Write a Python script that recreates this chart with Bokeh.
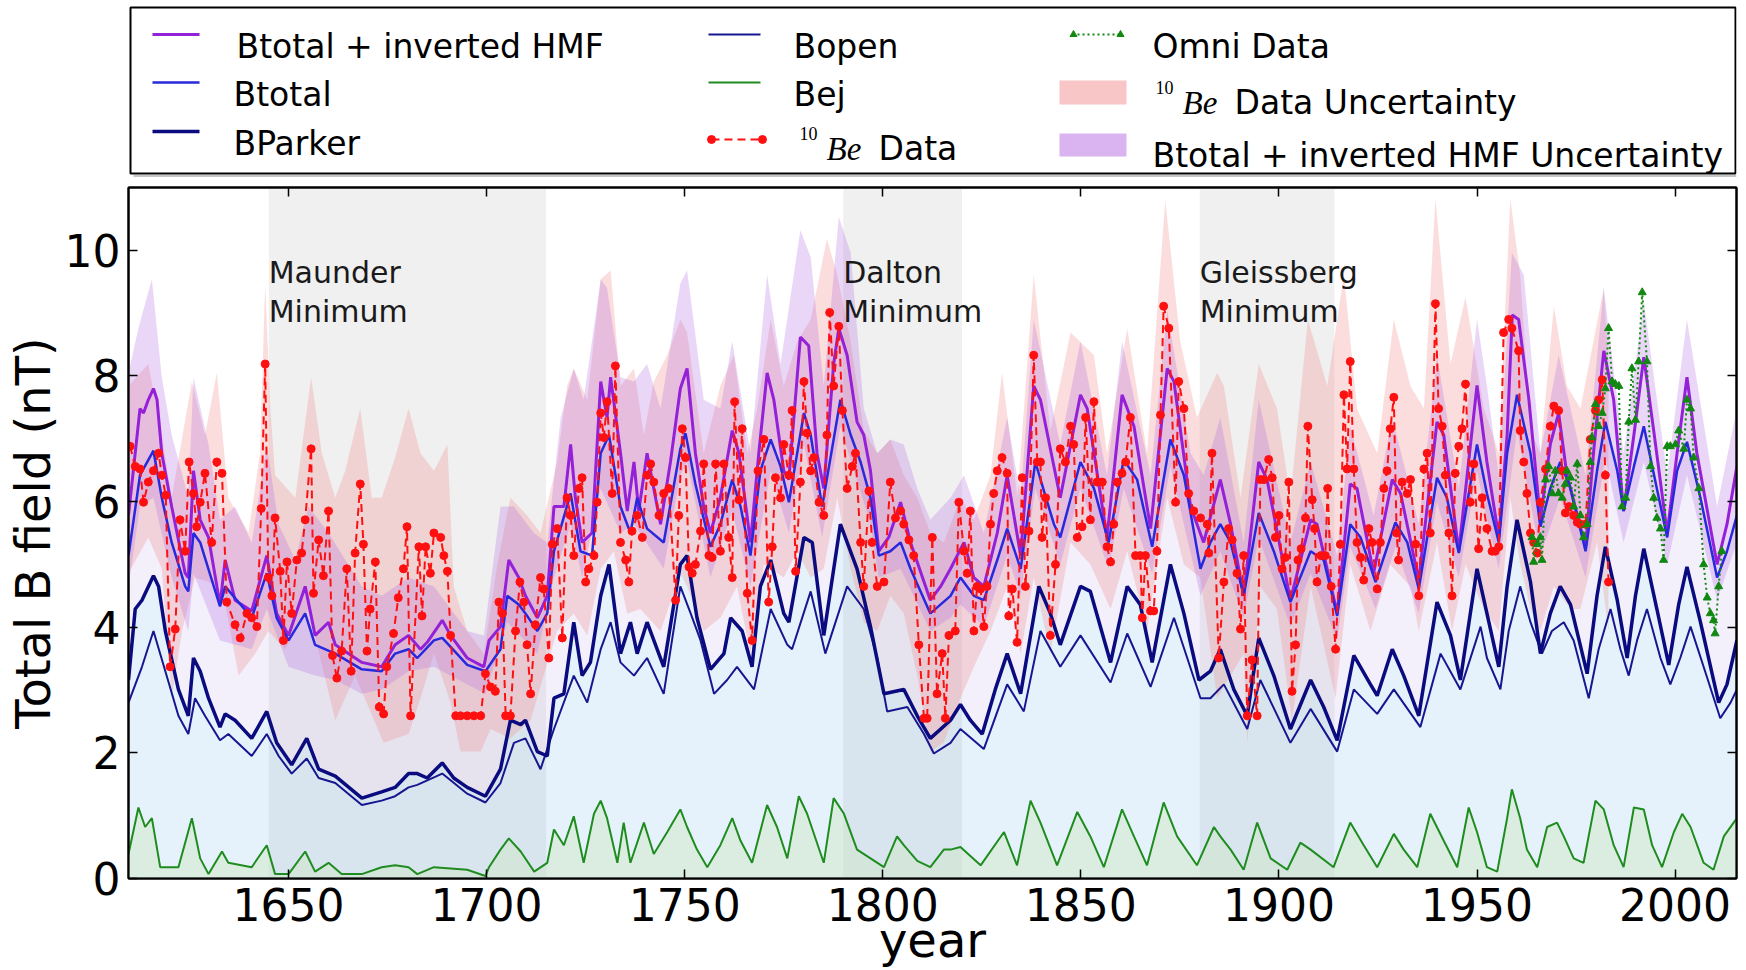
from bokeh.plotting import figure
from bokeh.models import Range1d, LinearAxis, BoxAnnotation, FixedTicker
from bokeh.layouts import column
from bokeh.embed import file_html
from bokeh.resources import INLINE
from bokeh.core.properties import value

SANS = "DejaVu Sans"
SERIF = "Liberation Serif"

# ---------------- data ----------------
x_ticks = [1650, 1700, 1750, 1800, 1850, 1900, 1950, 2000]
y_ticks = [0, 2, 4, 6, 8, 10]

minima_line1 = ["Maunder", "Dalton", "Gleissberg"]
minima_line2 = ["Minimum", "Minimum", "Minimum"]
minima_start = [1645, 1790, 1880]
minima_end = [1715, 1820, 1914]

hmf_year = [1609.6,1612.5,1613.4,1614.6,1615.9,1616.8,1618.0,1620.5,1623.9,1624.7,1626.0,1627.7,1629.8,1632.7,1634.0,1636.5,1640.7,1644.5,1647.0,1650.0,
            1654.2,1656.7,1660.1,1661.8,1668.5,1673.5,1676.9,1680.3,1683.3,1685.0,1688.8,1690.9,1695.1,1699.3,1700.6,1703.5,1705.6,1708.1,1709.8,1712.8,
            1715.3,1717.0,1719.5,1721.2,1722.4,1724.1,1726.6,1728.8,1730.4,1731.3,1733.8,1735.5,1737.2,1738.4,1740.5,1743.9,1746.4,1748.9,1750.6,1752.7,
            1754.8,1756.5,1759.0,1762.0,1763.7,1766.6,1768.7,1770.8,1772.5,1775.0,1776.3,1779.2,1781.3,1783.4,1785.1,1787.6,1788.9,1791.0,1793.5,1795.2,
            1796.9,1799.0,1801.5,1804.5,1807.0,1812.0,1814.6,1817.1,1820.5,1823.0,1825.5,1828.9,1831.4,1834.8,1838.1,1839.8,1844.8,1849.9,1851.6,1856.6,
            1860.4,1863.4,1867.6,1871.8,1873.5,1877.7,1881.0,1885.2,1887.8,1891.1,1894.9,1897.0,1902.9,1908.0,1909.6,1914.7,1918.0,1919.7,1923.9,1928.6,
            1930.7,1935.3,1939.9,1941.6,1945.4,1950.0,1952.5,1955.5,1957.6,1958.9,1960.5,1963.1,1966.0,1968.5,1970.6,1972.7,1977.4,1979.5,1982.0,1984.5,
            1987.0,1989.6,1992.1,1994.6,1998.0,2000.5,2003.0,2005.5,2010.6,2013.1,2015.6]
hmf = [5.78,7.48,7.41,7.62,7.80,7.62,6.77,5.92,4.86,4.79,6.49,5.71,5.43,4.36,5.07,4.43,4.26,5.14,4.22,3.87,
       4.65,3.87,4.08,3.72,3.44,3.37,3.72,3.87,3.65,3.76,4.11,3.87,3.51,3.37,3.79,4.01,5.07,4.79,4.50,4.15,
       4.50,5.92,5.92,6.91,6.06,5.35,5.50,7.91,7.34,7.98,6.77,5.85,6.63,5.85,6.77,5.64,6.63,7.80,8.12,6.77,
       5.92,5.50,6.06,7.13,6.77,5.35,6.77,8.05,7.62,6.49,6.35,8.62,8.48,6.77,6.21,8.19,8.76,8.33,7.27,7.06,
       6.49,5.21,5.43,5.99,5.35,4.43,4.65,4.93,5.35,4.79,4.65,5.50,6.42,5.14,7.84,7.62,6.06,7.70,7.48,5.43,
       7.70,7.20,5.57,8.12,7.91,5.92,5.35,6.35,5.64,4.50,6.63,6.35,4.43,5.71,5.64,4.22,6.28,6.21,4.86,6.35,
       6.13,4.75,7.27,7.06,5.21,7.85,6.63,5.43,7.06,8.97,8.90,7.62,5.71,6.91,7.41,6.42,5.28,6.84,8.40,7.62,
       5.85,7.06,8.30,7.13,5.50,6.77,7.98,6.77,5.00,5.64,6.56]

btot_year = [1609.6,1612.5,1615.9,1618.0,1620.5,1623.9,1624.7,1626.0,1627.7,1632.7,1634.0,1640.7,1644.5,1647.0,1650.0,1654.2,1656.7,1661.8,1668.5,1673.5,
             1676.9,1680.3,1682.5,1686.7,1688.8,1695.1,1699.7,1703.5,1705.2,1708.1,1709.8,1712.8,1715.3,1717.0,1721.2,1723.7,1726.6,1728.8,1730.9,1733.8,
             1736.3,1738.0,1740.5,1744.7,1748.9,1750.2,1752.7,1756.5,1759.0,1762.0,1764.1,1766.6,1769.1,1771.7,1774.2,1776.3,1780.1,1781.8,1784.7,1789.3,
             1791.9,1794.4,1796.9,1799.0,1801.9,1804.5,1807.0,1812.0,1817.1,1819.6,1823.0,1825.5,1828.9,1831.4,1834.8,1838.5,1843.2,1844.8,1849.9,1853.3,
             1857.0,1860.8,1864.2,1868.0,1872.6,1876.0,1880.2,1882.7,1885.2,1887.8,1891.1,1894.9,1898.7,1902.9,1908.0,1911.3,1914.7,1918.0,1920.6,1924.4,
             1929.4,1932.4,1935.3,1939.9,1942.4,1945.4,1950.0,1952.5,1955.5,1957.6,1960.1,1963.5,1966.0,1968.5,1971.0,1973.6,1977.4,1980.3,1982.4,1985.4,
             1987.0,1989.6,1992.1,1995.4,1998.0,2000.5,2003.0,2006.4,2010.6,2013.1,2015.6]
btot = [5.14,6.42,6.81,6.06,5.35,4.65,4.57,5.50,5.35,4.33,4.65,4.15,4.86,4.15,3.79,4.22,3.72,3.58,3.33,3.30,
        3.58,3.65,3.51,3.79,3.83,3.40,3.30,3.65,4.50,4.36,4.22,3.94,4.22,5.21,6.13,5.21,5.14,6.77,7.06,5.92,
        5.50,6.06,5.57,5.35,6.84,7.09,6.28,5.28,5.64,6.35,5.92,5.14,6.49,6.99,6.56,5.99,7.41,7.06,5.92,7.62,
        7.06,6.63,6.06,5.14,5.21,5.35,4.93,4.22,4.50,4.79,4.50,4.43,5.07,5.57,4.93,6.63,5.64,5.43,6.63,6.21,
        5.35,6.67,6.35,5.28,6.99,6.42,4.93,5.35,5.64,5.35,4.50,5.82,5.21,4.40,5.21,5.07,4.18,5.64,5.43,4.72,
        5.67,5.35,4.61,6.38,6.06,5.18,6.91,6.13,5.35,6.77,7.70,6.77,5.60,6.21,6.63,6.21,5.21,6.49,7.27,6.49,
        5.85,6.56,7.20,6.21,5.43,6.49,6.95,6.06,4.79,5.21,5.78]

bparker_year = [1609.6,1611.3,1613.0,1615.9,1617.2,1618.9,1622.2,1624.7,1626.0,1627.7,1629.8,1632.7,1634.0,1636.5,1640.7,1644.5,1647.0,1650.8,1654.6,1657.6,
                1661.8,1668.5,1673.5,1676.9,1680.3,1682.5,1685.0,1688.8,1691.7,1695.1,1699.7,1703.5,1706.0,1708.6,1709.8,1712.8,1715.3,1717.0,1719.5,1722.0,
                1724.1,1726.2,1728.8,1730.9,1733.8,1736.3,1738.0,1740.5,1744.7,1748.9,1750.6,1753.1,1756.5,1759.9,1761.6,1764.5,1767.0,1769.1,1771.7,1775.0,
                1776.3,1780.1,1782.2,1785.1,1789.3,1793.5,1796.9,1800.3,1805.3,1808.7,1812.0,1817.1,1819.6,1822.1,1825.1,1828.4,1831.4,1834.8,1839.4,1842.3,
                1844.8,1849.9,1852.4,1857.5,1861.7,1865.0,1868.0,1872.6,1876.0,1879.8,1882.7,1885.2,1888.6,1892.0,1894.9,1898.7,1902.9,1908.0,1911.3,1914.7,
                1918.9,1923.1,1924.8,1928.6,1931.5,1935.3,1939.9,1943.3,1945.8,1950.0,1952.5,1955.5,1957.6,1960.1,1963.5,1966.0,1968.5,1971.0,1973.6,1977.8,
                1980.3,1982.4,1985.4,1987.9,1990.0,1992.1,1995.4,1998.4,2000.9,2003.0,2006.4,2011.0,2013.1,2015.6]
bparker = [3.16,4.29,4.43,4.82,4.65,3.94,3.01,2.59,3.51,3.30,2.87,2.41,2.62,2.52,2.23,2.66,2.16,1.81,2.23,1.74,
           1.63,1.28,1.38,1.45,1.67,1.67,1.60,1.84,1.60,1.45,1.31,1.74,2.52,2.45,2.52,2.02,1.95,2.87,2.94,4.08,
           3.23,3.44,4.50,5.00,3.58,4.08,3.58,4.08,3.37,5.00,5.14,4.15,3.33,3.58,4.15,3.94,3.37,4.65,5.07,4.22,
           4.08,5.43,5.35,3.87,5.64,4.93,4.01,2.94,3.01,2.59,2.23,2.52,2.77,2.52,2.30,3.01,3.58,2.94,4.65,4.22,
           3.72,4.65,4.57,3.44,4.65,4.36,3.44,5.00,4.22,3.16,3.30,3.65,3.01,2.59,3.83,3.23,2.38,3.16,2.73,2.20,
           3.55,3.09,2.91,3.65,3.23,2.59,4.40,3.87,3.16,4.93,4.22,3.37,4.65,5.71,4.72,3.58,4.22,4.65,4.36,3.26,
           4.50,5.28,4.43,3.51,4.50,5.25,4.29,3.40,4.36,4.96,4.08,2.80,3.09,3.79]

bopen_year = [1609.6,1613.0,1615.9,1618.9,1622.2,1624.7,1626.4,1628.9,1632.7,1634.8,1640.7,1644.5,1647.5,1650.8,1654.6,1657.6,1661.8,1668.5,1673.5,1676.9,
              1680.3,1682.5,1688.8,1695.1,1699.7,1703.5,1706.9,1709.8,1713.6,1717.0,1722.0,1725.4,1728.8,1731.3,1733.8,1737.2,1740.5,1744.7,1748.9,1751.5,
              1754.0,1757.4,1760.7,1763.2,1767.5,1771.7,1775.9,1777.1,1781.8,1785.5,1791.0,1795.2,1798.6,1801.1,1806.2,1810.4,1812.9,1817.1,1819.6,1825.5,
              1831.4,1835.6,1839.8,1844.8,1849.9,1857.5,1861.7,1867.6,1873.5,1880.2,1882.7,1886.1,1892.0,1895.3,1902.9,1908.0,1914.7,1918.9,1924.8,1929.0,
              1935.7,1940.8,1945.8,1950.9,1952.5,1955.9,1958.0,1960.9,1963.5,1966.4,1968.9,1971.9,1974.4,1978.2,1980.7,1983.7,1986.2,1988.3,1990.4,1992.9,
              1996.3,1998.8,2001.3,2003.9,2007.2,2011.4,2014.0,2015.6]
bopen = [2.80,3.37,3.94,3.30,2.59,2.30,2.87,2.59,2.20,2.30,1.95,2.30,1.95,1.67,1.91,1.60,1.52,1.17,1.24,1.31,
         1.45,1.49,1.67,1.35,1.21,1.52,2.16,2.23,1.74,2.38,3.23,2.80,3.65,4.08,3.44,3.23,3.51,2.94,4.65,4.22,
         3.79,2.94,3.16,3.37,3.01,4.29,3.72,3.65,4.57,3.58,4.65,4.29,3.51,2.66,2.73,2.30,1.99,2.16,2.38,2.06,
         3.09,2.66,3.94,3.37,3.87,3.12,3.90,3.05,4.15,2.87,2.87,3.09,2.38,3.16,2.16,2.70,2.02,3.01,2.62,3.01,
         2.41,3.58,3.01,4.01,3.51,3.01,3.94,4.65,4.08,3.58,3.94,4.08,3.79,2.87,3.65,4.29,3.65,3.23,3.79,4.29,
         3.51,3.09,3.51,4.01,3.37,2.55,2.80,3.01]

bej_year = [1609.6,1612.1,1613.8,1615.5,1617.6,1622.2,1625.6,1627.7,1629.8,1633.2,1634.8,1640.7,1644.5,1646.6,1650.0,1654.2,1656.7,1660.1,1663.4,1668.5,
            1673.5,1676.9,1680.3,1682.5,1686.7,1695.1,1699.7,1700.6,1703.5,1705.6,1708.6,1712.0,1715.3,1717.0,1719.5,1722.0,1724.5,1727.1,1728.8,1730.4,
            1733.0,1734.6,1736.3,1739.7,1742.2,1745.6,1748.9,1750.6,1753.1,1755.7,1759.0,1762.0,1764.1,1767.0,1770.8,1773.3,1775.9,1778.8,1780.9,1785.1,
            1787.6,1790.2,1793.5,1796.9,1800.3,1803.6,1805.3,1808.7,1812.0,1815.4,1817.1,1819.6,1824.7,1830.6,1833.9,1837.3,1839.8,1844.0,1849.1,1852.4,
            1855.8,1860.4,1863.4,1866.7,1870.9,1874.3,1879.3,1883.6,1885.2,1887.8,1891.1,1894.5,1897.9,1902.1,1905.4,1908.0,1913.8,1918.0,1921.4,1924.8,
            1929.0,1931.5,1934.9,1938.2,1941.6,1945.0,1947.9,1950.0,1952.5,1955.1,1957.6,1958.8,1960.9,1962.6,1965.2,1967.7,1970.2,1971.9,1974.4,1976.9,
            1979.9,1982.0,1984.5,1987.0,1989.6,1992.1,1994.2,1996.7,1999.7,2001.8,2003.9,2007.2,2009.7,2012.3,2015.6]
bej = [0.39,1.13,0.82,0.96,0.18,0.18,0.96,0.32,0.07,0.43,0.25,0.18,0.53,0.07,0.07,0.43,0.11,0.25,0.07,0.07,
       0.18,0.21,0.18,0.07,0.18,0.14,0.04,0.18,0.46,0.64,0.43,0.11,0.25,0.78,0.53,0.99,0.25,1.03,1.24,0.96,
       0.25,0.89,0.25,0.89,0.39,0.74,1.10,0.82,0.46,0.18,0.53,0.96,0.60,0.25,1.17,0.82,0.32,1.31,1.03,0.25,
       1.28,1.03,0.46,0.32,0.18,0.67,0.53,0.28,0.18,0.46,0.46,0.50,0.21,0.74,0.21,1.24,0.89,0.21,1.06,0.67,
       0.18,1.10,0.67,0.21,1.21,0.67,0.21,0.82,0.67,0.46,0.14,0.89,0.32,0.14,0.57,0.46,0.18,0.89,0.53,0.18,
       0.71,0.46,0.18,1.03,0.60,0.18,1.13,0.74,0.18,0.11,0.96,1.42,0.96,0.46,0.18,0.82,0.89,0.67,0.32,0.25,
       1.24,1.10,0.53,0.18,1.13,1.10,0.53,0.18,0.74,1.03,0.82,0.25,0.14,0.67,0.96]

be_year = [1610.0,1611.3,1612.5,1613.4,1614.6,1615.9,1617.2,1618.0,1619.0,1620.1,1621.4,1622.6,1623.9,1624.9,1626.0,1626.8,1627.7,1628.9,1630.6,1631.9,
           1633.2,1634.4,1636.5,1637.8,1639.5,1640.7,1642.0,1643.1,1644.1,1644.9,1645.8,1646.6,1647.9,1648.7,1649.6,1650.8,1652.1,1653.3,1654.2,1655.7,
           1656.3,1657.6,1658.8,1660.1,1661.1,1662.2,1663.4,1664.7,1665.8,1666.8,1668.1,1668.9,1669.8,1670.6,1671.9,1672.9,1674.0,1674.8,1676.5,1677.7,
           1679.0,1679.9,1680.8,1682.9,1683.7,1684.6,1685.8,1686.7,1688.4,1689.2,1690.1,1690.9,1692.2,1693.4,1695.1,1696.8,1698.5,1699.7,1701.0,1702.2,
           1703.1,1704.0,1704.8,1706.0,1707.3,1708.4,1709.4,1710.2,1711.1,1712.3,1713.6,1714.4,1715.7,1716.6,1717.8,1719.1,1720.3,1721.2,1722.0,1723.3,
           1724.1,1725.0,1725.8,1727.1,1727.9,1728.8,1729.6,1730.4,1731.7,1732.5,1733.8,1735.1,1735.9,1736.7,1738.0,1739.3,1740.5,1741.4,1742.2,1743.5,
           1744.7,1746.0,1747.7,1748.5,1749.4,1750.2,1751.1,1751.9,1752.7,1754.0,1754.8,1756.1,1756.9,1757.8,1759.0,1759.9,1761.1,1762.0,1762.6,1763.7,
           1764.5,1765.8,1767.0,1768.5,1770.0,1771.2,1772.1,1772.9,1774.2,1775.0,1776.3,1777.1,1778.0,1779.2,1780.1,1780.9,1781.8,1782.6,1783.9,1785.1,
           1785.9,1786.6,1787.6,1788.9,1789.8,1791.0,1792.3,1793.1,1794.4,1795.2,1796.5,1797.3,1798.6,1800.3,1801.9,1803.2,1804.5,1805.3,1806.6,1807.8,
           1809.1,1810.4,1811.2,1812.5,1813.7,1815.0,1815.8,1816.7,1818.3,1819.2,1820.5,1821.3,1822.1,1823.0,1823.8,1824.7,1825.5,1826.3,1827.2,1828.0,
           1828.9,1830.1,1831.4,1831.8,1832.7,1833.9,1835.2,1836.0,1836.9,1838.1,1839.0,1839.8,1840.2,1841.1,1842.3,1843.6,1844.8,1846.1,1847.4,1848.2,
           1849.1,1850.3,1851.2,1852.4,1853.3,1854.1,1855.4,1856.6,1857.5,1858.3,1859.2,1860.4,1861.3,1862.5,1863.8,1865.0,1865.5,1866.3,1867.6,1868.4,
           1869.2,1870.1,1870.9,1872.2,1873.9,1874.7,1876.0,1877.2,1878.5,1880.2,1881.9,1882.3,1883.1,1884.8,1886.1,1887.3,1888.2,1889.4,1890.3,1891.1,
           1892.0,1893.2,1894.5,1895.3,1896.2,1897.4,1898.3,1899.1,1900.0,1900.8,1901.6,1902.5,1903.3,1904.2,1904.8,1905.6,1906.7,1907.3,1908.4,1909.0,
           1909.6,1910.6,1911.7,1912.3,1913.2,1914.3,1915.5,1916.4,1917.2,1918.0,1918.9,1919.7,1920.6,1921.4,1922.7,1923.5,1924.8,1925.6,1926.5,1927.3,
           1928.1,1929.0,1929.7,1930.2,1931.1,1932.4,1933.2,1934.5,1935.3,1936.6,1937.4,1938.2,1939.5,1940.3,1941.2,1942.0,1942.9,1943.7,1944.5,1945.4,
           1946.2,1947.1,1948.3,1949.2,1950.4,1951.3,1952.5,1953.8,1954.6,1955.5,1956.7,1958.0,1958.8,1960.5,1960.9,1961.8,1962.6,1963.5,1964.3,1965.2,
           1966.0,1967.3,1968.5,1969.4,1970.6,1971.5,1972.3,1973.2,1974.4,1975.3,1976.1,1977.4,1978.6,1979.9,1980.7,1981.6,1982.4,1983.2]
be = [6.88,6.56,6.52,5.99,6.31,6.49,6.77,6.42,6.10,3.37,3.97,5.71,5.21,6.63,6.13,5.60,5.99,6.45,5.35,6.63,
      6.45,4.40,4.04,3.83,4.22,4.15,4.01,5.89,8.19,4.79,4.50,5.74,4.89,3.79,5.04,4.22,5.07,5.18,5.71,6.84,
      4.54,5.39,4.82,5.85,3.55,3.19,3.62,4.93,3.30,5.18,6.28,5.32,3.62,4.29,5.04,2.73,2.62,3.37,3.90,4.47,
      4.93,5.60,2.59,5.28,4.18,5.28,4.86,5.50,5.43,5.14,4.89,3.87,2.59,2.59,2.59,2.59,2.59,3.26,3.05,2.98,
      4.40,4.22,2.59,2.59,3.94,4.72,4.40,3.72,2.94,4.04,4.79,4.61,3.51,5.32,5.57,3.83,6.06,5.78,5.14,6.21,
      6.38,4.72,4.93,5.14,5.99,7.41,7.02,7.59,6.13,8.16,5.35,5.07,4.72,5.53,5.78,5.43,6.42,6.60,6.31,5.78,
      6.13,6.21,4.43,5.78,7.16,6.70,4.96,4.86,5.00,5.53,6.60,5.14,5.11,6.60,5.21,6.60,5.43,4.79,7.59,6.03,
      7.16,4.54,3.79,6.49,6.99,4.40,5.28,6.38,6.06,6.91,6.42,7.45,4.89,6.31,7.91,7.09,6.49,6.70,5.99,5.78,
      7.06,9.01,7.84,8.79,7.45,6.21,6.56,6.77,5.35,4.65,6.17,5.35,4.65,4.72,6.31,5.74,5.85,5.64,5.39,5.14,
      3.72,2.55,2.55,5.43,2.94,3.58,2.55,3.87,3.94,5.99,5.21,4.86,5.85,3.94,4.65,4.61,4.01,4.65,5.64,6.13,
      6.49,6.70,6.45,4.18,4.61,3.76,6.38,4.65,5.53,8.33,6.63,6.63,5.43,6.06,3.87,5.00,6.84,6.63,7.20,6.91,
      5.43,5.60,7.34,5.71,7.59,6.31,6.31,5.28,5.04,5.64,6.31,6.45,6.63,7.34,5.14,5.14,4.15,5.14,4.26,4.26,
      5.21,7.38,9.11,8.76,5.99,7.91,7.48,6.13,5.85,5.74,5.64,5.18,6.77,3.51,4.72,5.57,5.39,4.86,3.97,5.14,
      2.59,3.48,2.59,6.35,6.35,6.67,6.38,5.43,5.78,4.93,5.11,6.31,2.98,3.72,5.07,5.25,5.74,7.20,6.03,5.57,
      4.72,5.14,5.14,6.21,4.65,3.65,5.32,7.70,6.52,8.23,6.52,5.35,5.11,4.75,5.57,5.35,4.61,5.35,6.21,6.49,
      7.16,7.66,5.50,5.07,6.31,6.13,6.35,5.32,4.50,6.52,6.77,5.50,9.15,7.48,7.20,6.42,5.50,4.50,6.45,6.88,
      7.16,7.87,5.99,6.60,5.25,6.06,5.57,5.21,5.21,5.28,8.69,8.90,8.76,8.40,7.13,6.63,6.13,5.50,5.35,5.18,
      5.99,6.52,7.20,7.52,7.45,6.49,5.82,5.92,5.78,5.67,5.64,5.64,6.99,7.45,7.62,7.94,6.42,4.72]

omni_year = [1963.9,1964.3,1965.2,1966.0,1966.4,1967.3,1968.1,1969.0,1969.8,1970.6,1971.5,1972.3,1972.7,1973.6,1974.4,1975.3,1976.1,1976.9,1977.8,1978.6,
             1979.0,1979.9,1980.7,1981.6,1982.4,1983.2,1984.1,1984.9,1985.8,1986.6,1987.5,1988.3,1989.1,1990.0,1990.8,1991.7,1992.9,1993.8,1994.6,1995.4,
             1996.3,1997.1,1998.0,1998.8,2000.1,2000.9,2002.2,2003.0,2003.9,2004.7,2006.0,2007.2,2008.1,2008.9,2009.7,2010.1,2011.0,2011.8]
omni = [5.43,5.04,5.32,5.43,5.07,6.35,6.56,6.13,6.49,6.13,6.06,6.28,6.49,6.38,5.92,6.60,5.78,5.43,5.64,6.63,
        7.02,7.55,7.20,7.41,7.80,8.76,7.91,7.87,7.84,5.92,6.06,7.27,8.12,7.30,8.23,9.33,8.23,6.56,6.06,5.74,
        5.57,5.07,6.88,6.88,6.91,7.13,6.84,7.62,7.48,6.70,6.21,5.00,4.47,4.22,4.11,3.90,4.65,5.21]

be_up_year = [1609.6,1614.6,1618.0,1620.5,1625.6,1628.9,1631.9,1634.8,1639.9,1642.8,1644.1,1645.4,1646.6,1651.7,1655.7,1658.4,1661.8,1664.3,1668.1,1671.0,
              1673.5,1676.9,1680.3,1683.3,1686.7,1690.1,1691.7,1695.1,1699.3,1702.7,1706.0,1710.2,1713.6,1717.8,1720.3,1722.0,1725.4,1728.8,1731.3,1733.8,
              1737.2,1739.7,1742.2,1745.6,1748.9,1750.6,1754.8,1759.0,1762.4,1765.8,1768.3,1771.7,1775.0,1778.4,1781.8,1785.9,1788.5,1791.9,1795.2,1798.6,
              1801.9,1805.3,1808.7,1812.0,1815.4,1819.6,1823.0,1827.2,1830.1,1834.0,1838.1,1842.3,1847.4,1853.3,1856.6,1861.7,1866.7,1871.3,1875.1,1879.3,
              1884.4,1886.1,1890.3,1894.9,1899.5,1902.9,1907.3,1912.2,1916.4,1919.7,1924.8,1929.0,1933.2,1936.6,1939.5,1943.3,1947.1,1951.7,1955.5,1958.4,
              1960.9,1963.5,1966.0,1969.4,1972.7,1976.1,1982.0,1983.2]
be_up = [7.84,8.19,7.06,6.06,7.91,7.06,8.05,6.06,5.50,6.77,9.47,7.48,6.42,6.06,7.98,6.77,6.06,6.49,7.48,6.06,
         6.06,6.70,7.48,6.77,6.49,6.91,4.65,3.94,3.58,5.00,6.06,5.78,5.50,6.63,7.84,8.12,7.62,9.54,9.68,7.84,
         8.12,7.06,7.91,8.33,8.90,8.69,6.77,7.84,8.33,6.77,7.48,8.90,7.84,8.55,8.90,10.18,9.61,8.55,7.13,6.77,
         6.99,6.42,6.06,5.50,5.35,6.06,5.71,6.42,8.05,6.06,9.61,7.13,8.69,8.33,6.77,8.76,6.77,10.80,8.55,7.34,
         8.05,7.84,6.06,8.19,7.48,6.06,8.90,7.84,9.61,7.48,6.77,8.90,7.84,7.48,10.82,8.19,9.26,7.48,6.77,10.82,
         9.61,7.13,6.77,9.11,7.84,7.48,9.40,8.19]
be_lo_year = [1609.6,1614.6,1618.0,1620.5,1623.1,1626.4,1633.2,1637.4,1641.6,1644.9,1649.1,1655.0,1661.8,1666.8,1674.0,1680.3,1683.3,1686.7,1690.9,1693.4,
              1698.5,1701.0,1706.0,1711.1,1714.4,1717.8,1722.0,1725.4,1728.8,1732.1,1735.5,1738.8,1743.9,1748.9,1750.6,1754.8,1759.0,1763.2,1766.6,1770.0,
              1775.0,1778.4,1781.8,1785.1,1788.5,1791.9,1795.2,1798.6,1801.9,1805.3,1808.7,1812.0,1815.4,1819.6,1823.0,1827.2,1831.4,1834.8,1838.1,1842.3,
              1847.4,1852.4,1857.5,1861.7,1866.7,1871.8,1876.0,1880.2,1884.4,1891.1,1892.0,1895.3,1899.5,1903.3,1908.0,1914.3,1918.0,1923.1,1928.1,1933.2,
              1935.3,1939.9,1943.7,1947.1,1951.7,1955.5,1958.4,1960.9,1963.5,1966.0,1969.4,1973.6,1976.1,1980.3,1983.2]
be_lo = [4.86,5.43,4.93,2.87,3.94,4.79,4.65,3.23,3.58,3.94,3.65,4.29,2.52,3.23,2.16,2.30,2.87,3.58,2.80,2.02,
         2.02,2.38,2.23,2.52,3.23,3.94,4.22,3.87,4.93,5.21,4.22,4.29,3.94,4.86,4.65,3.94,4.15,4.65,3.58,5.00,
         4.79,5.21,4.79,4.93,6.06,4.93,4.08,3.94,4.50,4.22,3.23,2.02,2.16,2.87,3.37,3.94,4.65,3.58,4.79,3.58,
         5.35,5.00,4.29,5.21,3.94,6.06,5.00,4.79,2.87,3.58,2.16,4.65,4.29,2.52,4.65,2.87,5.00,3.94,5.00,4.65,
         3.94,5.35,3.94,5.00,4.29,3.94,6.06,5.00,4.29,3.94,4.65,4.29,4.29,5.35,3.94]

hmf_up_year = [1609.6,1612.1,1615.5,1618.0,1620.5,1624.7,1626.0,1629.8,1632.7,1636.5,1640.7,1644.5,1647.5,1651.7,1655.0,1660.1,1668.5,1673.5,1680.3,1686.7,
               1695.1,1699.3,1703.5,1706.9,1711.9,1715.3,1718.7,1722.0,1724.5,1728.8,1730.4,1733.8,1737.2,1740.5,1743.9,1748.9,1750.6,1754.8,1759.0,1762.0,
               1766.6,1770.8,1774.2,1779.2,1781.8,1785.1,1788.9,1791.9,1795.2,1798.6,1801.9,1805.3,1808.7,1812.0,1817.1,1820.5,1825.5,1831.4,1834.8,1838.1,
               1844.8,1849.9,1856.6,1860.4,1867.6,1871.8,1877.7,1881.0,1885.2,1891.1,1894.9,1902.9,1908.0,1914.7,1918.0,1923.9,1928.6,1935.3,1939.9,1945.4,
               1950.0,1952.5,1955.5,1958.8,1961.8,1966.0,1970.6,1977.4,1982.0,1987.0,1992.1,1998.0,2003.0,2010.6,2015.6]
hmf_up = [8.05,8.76,9.54,7.98,7.06,6.06,7.98,6.91,5.71,5.92,5.35,6.91,5.64,5.07,5.92,5.50,4.65,4.50,4.79,4.65,
          3.94,3.87,5.92,5.92,5.50,5.35,7.34,8.12,7.62,9.54,9.40,7.98,7.91,8.19,7.48,9.47,9.68,7.62,7.48,8.55,
          6.77,9.61,8.19,10.32,9.89,7.84,10.53,9.96,7.48,6.77,6.99,6.91,6.21,5.71,6.06,6.42,5.50,7.34,6.06,8.90,
          6.91,8.55,6.42,8.55,6.42,9.04,6.77,6.42,7.34,5.35,7.62,5.35,6.63,5.14,7.20,5.78,7.34,5.64,8.33,6.21,
          8.90,7.84,6.42,9.96,9.61,6.77,8.33,6.42,9.40,6.77,9.18,6.42,8.90,5.92,7.48]
hmf_lo_year = [1609.6,1612.5,1615.9,1620.5,1624.7,1626.0,1632.7,1640.7,1644.5,1650.0,1656.7,1661.8,1668.5,1673.5,1680.3,1686.7,1695.1,1699.7,1705.2,1712.8,
               1717.0,1721.2,1724.1,1728.8,1733.8,1737.2,1744.7,1748.9,1750.6,1756.5,1762.0,1766.6,1771.7,1776.3,1780.1,1784.7,1789.3,1796.9,1799.0,1804.5,
               1812.0,1817.1,1819.6,1825.5,1831.4,1834.8,1838.5,1844.8,1849.9,1857.0,1860.8,1868.0,1872.6,1880.2,1885.2,1891.1,1894.9,1902.9,1908.0,1914.7,
               1918.0,1924.4,1929.4,1935.3,1939.9,1945.4,1950.0,1952.5,1955.5,1960.1,1966.0,1971.0,1977.4,1982.4,1987.0,1992.1,1998.0,2003.0,2010.6,2015.6]
hmf_lo = [4.65,5.92,6.06,4.79,3.94,4.86,3.79,3.65,4.29,3.37,3.23,3.16,2.94,3.01,3.30,3.37,3.09,2.94,4.08,3.58,
          4.79,5.64,4.79,6.21,5.50,5.64,4.93,6.42,6.63,4.79,5.85,4.65,6.49,5.50,6.91,5.43,7.20,5.64,4.79,4.93,
          3.94,4.15,4.36,4.01,5.14,4.50,6.21,5.00,6.21,4.93,6.21,4.86,6.56,4.50,5.21,4.15,5.43,4.01,4.86,3.79,
          5.28,4.29,5.28,4.22,5.99,4.79,6.49,5.71,4.93,7.13,5.14,6.06,4.79,6.70,5.35,6.63,5.00,6.42,4.43,5.35]

# ---------------- colours ----------------
C_HMF = "#9420d8"
C_BTOT = "#2828dc"
C_PARK = "#0b0b80"
C_OPEN = "#161690"
C_BEJ = "#1f8c1f"
C_RED = "#ff1010"
C_OMNI = "#118811"
C_PINK = "#f28e8e"
C_PURP = "#b36ae2"

# ---------------- main plot ----------------
p = figure(frame_width=1608, frame_height=691,
           x_range=Range1d(1609.6, 2015.5), y_range=Range1d(0, 11),
           output_backend="svg", toolbar_location=None,
           min_border_left=128, min_border_right=10, min_border_top=9, min_border_bottom=10,
           background_fill_color="white", border_fill_color="white")
p.grid.visible = False
p.outline_line_color = "black"
p.outline_line_width = 2

for s, e in zip(minima_start, minima_end):
    p.add_layout(BoxAnnotation(left=s, right=e, fill_color="#8c8c8c", fill_alpha=0.13,
                               line_color=None, level="underlay"))

# background fills
p.varea(x=bparker_year, y1=0, y2=bparker, fill_color="#5aa8e6", fill_alpha=0.15)
p.patch(x=btot_year + bparker_year[::-1], y=btot + bparker[::-1],
        fill_color="#a78be0", fill_alpha=0.14, line_color=None)
p.varea(x=bej_year, y1=0, y2=bej, fill_color="#cfe8c8", fill_alpha=0.5)

# uncertainty bands
p.patch(x=be_up_year + be_lo_year[::-1], y=be_up + be_lo[::-1],
        fill_color=C_PINK, fill_alpha=0.3, line_color=None)
p.patch(x=hmf_up_year + hmf_lo_year[::-1], y=hmf_up + hmf_lo[::-1],
        fill_color=C_PURP, fill_alpha=0.28, line_color=None)

# model curves
p.line(bej_year, bej, line_color=C_BEJ, line_width=2)
p.line(bopen_year, bopen, line_color=C_OPEN, line_width=2)
p.line(bparker_year, bparker, line_color=C_PARK, line_width=3.5)
p.line(hmf_year, hmf, line_color=C_HMF, line_width=3)
p.line(btot_year, btot, line_color=C_BTOT, line_width=2.5)

# data
p.line(be_year, be, line_color=C_RED, line_width=2, line_dash="8 5")
p.scatter(be_year, be, marker="circle", size=8, fill_color=C_RED, line_color=C_RED)
p.line(omni_year, omni, line_color=C_OMNI, line_width=2, line_dash="2 3")
p.scatter(omni_year, omni, marker="triangle", size=8, fill_color=C_OMNI, line_color=C_OMNI)

# minimum labels
p.text(x=minima_start, y=[9.65] * 3, text=minima_line1, text_font=value(SANS),
       text_font_size="30px", text_color="#1a1a1a", text_baseline="alphabetic", x_offset=0)
p.text(x=minima_start, y=[9.03] * 3, text=minima_line2, text_font=value(SANS),
       text_font_size="30px", text_color="#1a1a1a", text_baseline="alphabetic", x_offset=0)

# axes
xa = p.xaxis[0]
xa.ticker = FixedTicker(ticks=x_ticks)
ya = p.yaxis[0]
ya.ticker = FixedTicker(ticks=y_ticks)
for ax in (xa, ya):
    ax.major_label_text_font = SANS
    ax.major_label_text_font_size = "44px"
    ax.major_label_text_color = "black"
    ax.major_tick_in = 9
    ax.major_tick_out = 0
    ax.minor_tick_line_color = None
    ax.axis_line_width = 2
    ax.major_tick_line_width = 1.5
    ax.axis_label_text_font = SANS
    ax.axis_label_text_font_style = "normal"
    ax.axis_label_text_color = "black"
    ax.axis_label_text_font_size = "48px"
xa.axis_label = "year"
xa.major_label_standoff = 9
xa.axis_label_standoff = -12
ya.axis_label = "Total B field (nT)"
ya.major_label_standoff = 8
ya.axis_label_standoff = 1

top = LinearAxis(ticker=FixedTicker(ticks=x_ticks),
                 major_label_overrides={t: "" for t in x_ticks},
                 major_label_text_font_size="10px",
                 major_tick_in=9, major_tick_out=0, minor_tick_line_color=None,
                 major_label_standoff=0, axis_line_width=2, major_tick_line_width=1.5)
right = LinearAxis(ticker=FixedTicker(ticks=y_ticks),
                   major_label_overrides={t: "" for t in y_ticks},
                   major_label_text_font_size="10px",
                   major_tick_in=9, major_tick_out=0, minor_tick_line_color=None,
                   major_label_standoff=0, axis_line_width=2, major_tick_line_width=1.5)
p.add_layout(top, "above")
p.add_layout(right, "right")

# ---------------- legend panel (frame aligned with the plot frame, pixel coords) ----------------
leg = figure(frame_width=1608, frame_height=178, x_range=Range1d(128, 1736), y_range=Range1d(178, 0),
             output_backend="svg", toolbar_location=None,
             min_border_left=128, min_border_right=10, min_border_top=0, min_border_bottom=0,
             x_axis_location=None, y_axis_location=None,
             background_fill_color="white", border_fill_color="white")
leg.grid.visible = False
leg.outline_line_color = None

leg.line([133, 1736], [175.5, 175.5], line_color="#c4c4c4", line_width=2)
leg.quad(left=[130], right=[1735], top=[7], bottom=[173], fill_color="white",
         line_color="black", line_width=2)

LFS = "33px"
# column 1
leg.line([152, 199], [34, 34], line_color=C_HMF, line_width=3)
leg.line([152, 199], [82, 82], line_color=C_BTOT, line_width=2.5)
leg.line([152, 199], [131, 131], line_color=C_PARK, line_width=3.5)
leg.text(x=[236, 233, 233], y=[46, 94, 143],
         text=["Btotal + inverted HMF", "Btotal", "BParker"],
         text_font=value(SANS), text_font_size=LFS, text_color="black", text_baseline="alphabetic")
# column 2
leg.line([708, 760], [34, 34], line_color=C_OPEN, line_width=2)
leg.line([708, 760], [82, 82], line_color=C_BEJ, line_width=2)
leg.line([711, 762], [139, 139], line_color=C_RED, line_width=2, line_dash="8 5")
leg.scatter([711, 762], [139, 139], marker="circle", size=8, fill_color=C_RED, line_color=C_RED)
leg.text(x=[793, 793, 878], y=[46, 94, 148], text=["Bopen", "Bej", "Data"],
         text_font=value(SANS), text_font_size=LFS, text_color="black", text_baseline="alphabetic")
# column 3
leg.line([1072, 1121], [34, 34], line_color=C_OMNI, line_width=2, line_dash="2 3")
leg.scatter([1073, 1120], [34, 34], marker="triangle", size=7, fill_color=C_OMNI, line_color=C_OMNI)
leg.quad(left=[1059], right=[1126], top=[80], bottom=[104], fill_color=C_PINK, fill_alpha=0.5, line_color=None)
leg.quad(left=[1059], right=[1126], top=[133], bottom=[156], fill_color=C_PURP, fill_alpha=0.5, line_color=None)
leg.text(x=[1152, 1234, 1152], y=[46, 102, 155],
         text=["Omni Data", "Data Uncertainty", "Btotal + inverted HMF Uncertainty"],
         text_font=value(SANS), text_font_size=LFS, text_color="black", text_baseline="alphabetic")
# superscript 10 and italic Be (isotope symbol)
leg.text(x=[799, 1155], y=[133, 87], text=["10", "10"], text_font=value(SERIF),
         text_font_size="18px", text_color="black", text_baseline="alphabetic")
leg.text(x=[826, 1182], y=[148, 102], text=["Be", "Be"], text_font=value(SERIF),
         text_font_style="italic", text_font_size="33px", text_color="black", text_baseline="alphabetic")

layout = column(leg, p, spacing=0)
open("out.html", "w").write(file_html(layout, INLINE))
